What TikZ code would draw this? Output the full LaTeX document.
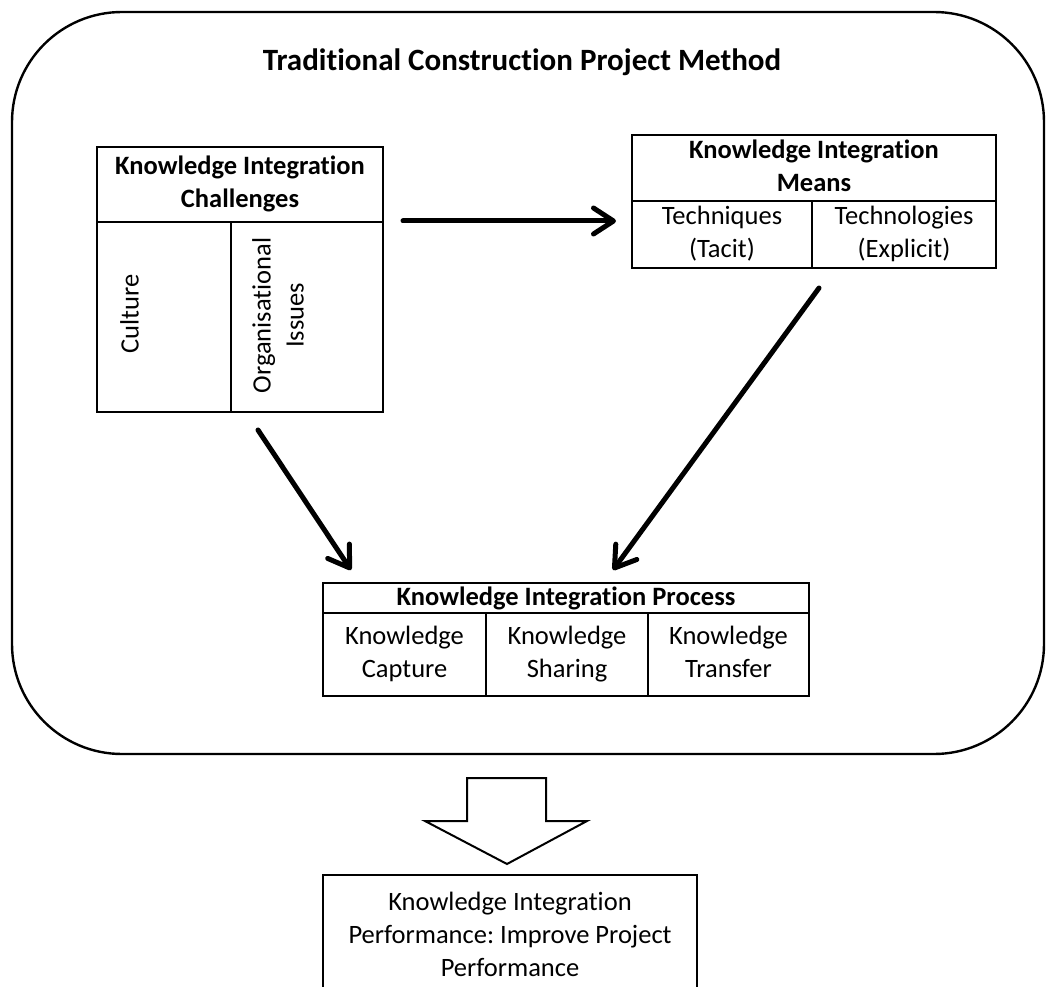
\documentclass[tikz,border=0pt]{standalone}
\usepackage{fontspec}
\setmainfont{Carlito}[Ligatures=NoCommon]
\usetikzlibrary{arrows.meta}

\newcommand\kfs{\fontsize{26.5}{33}\selectfont\frenchspacing}
\newcommand\tfs{\fontsize{31}{36}\selectfont}
\newcommand\kstrut{\vrule width 0pt height 28pt depth 5pt}

\tikzset{
  cell/.style={draw, line width=1.3pt, inner sep=0pt, align=center, font=\kfs,
    execute at begin node={\kstrut}, execute at end node={\kstrut}},
  head/.style={cell, font=\kfs\bfseries},
  vtext/.style={rotate=90, anchor=north, inner sep=0pt, align=center, font=\kfs},
  flow/.style={line width=5pt, line cap=round,
    -{Straight Barb[length=20pt, width=26pt, round]}},
}

\begin{document}
\begin{tikzpicture}[x=1pt, y=-1pt]
  \useasboundingbox (0,0) rectangle (1047,987);
  \clip (0,0) rectangle (1047,987);

  % outer frame
  \draw[line width=2.4pt, rounded corners=110pt] (12,12) rectangle (1044,754);
  \node[font=\tfs\bfseries] (title) at (522,62) {Traditional Construction Project Method};

  % challenges table
  \node[head, minimum width=286pt, minimum height=75pt] (chH) at (240,184.5)
    {Knowledge Integration\\Challenges};
  \node[draw, line width=1.3pt, minimum width=134pt, minimum height=190pt] (chA) at (164,317) {};
  \node[draw, line width=1.3pt, minimum width=152pt, minimum height=190pt] (chB) at (307,317) {};
  \node[vtext] (chAt) at (120,314) {Culture};
  \node[vtext] (chBt) at (252,315.5) {Organisational\\Issues};

  % means table
  \node[head, minimum width=364pt, minimum height=66pt] (mnH) at (814,168)
    {Knowledge Integration\\Means};
  \node[cell, minimum width=180pt, minimum height=67pt] (mnA) at (722,234.5)
    {Techniques\\(Tacit)};
  \node[cell, minimum width=184pt, minimum height=67pt] (mnB) at (904,234.5)
    {Technologies\\(Explicit)};

  % process table
  \node[head, execute at begin node={}, execute at end node={},
        text height=20pt, text depth=6pt,
        minimum width=486pt, minimum height=30pt] (prH) at (566,598)
    {Knowledge Integration Process};
  \node[cell, minimum width=163pt, minimum height=83pt] (prA) at (404.5,654.5)
    {Knowledge\\Capture};
  \node[cell, minimum width=162pt, minimum height=83pt] (prB) at (567,654.5)
    {Knowledge\\Sharing};
  \node[cell, minimum width=161pt, minimum height=83pt] (prC) at (728.5,654.5)
    {Knowledge\\Transfer};

  % performance box
  \node[cell, line width=2pt, minimum width=374pt, minimum height=124pt] (perf) at (510,937)
    {Knowledge Integration\\Performance: Improve Project\\Performance};

  % connectors
  \coordinate (c1s) at (403,221);
  \coordinate (c1e) at (616,221);
  \coordinate (c2s) at (258,430);
  \coordinate (c2e) at (351,570);
  \coordinate (c3s) at (819,288);
  \coordinate (c3e) at (613,570);
  \draw[flow] (c1s) -- (c1e);
  \draw[flow] (c2s) -- (c2e);
  \draw[flow] (c3s) -- (c3e);

  % block arrow towards performance
  \draw[line width=2pt, line join=miter, fill=white]
    (467,778) -- (546,778) -- (546,821) -- (587,821) -- (507,864)
    -- (425,821) -- (467,821) -- cycle;
\end{tikzpicture}
\end{document}
